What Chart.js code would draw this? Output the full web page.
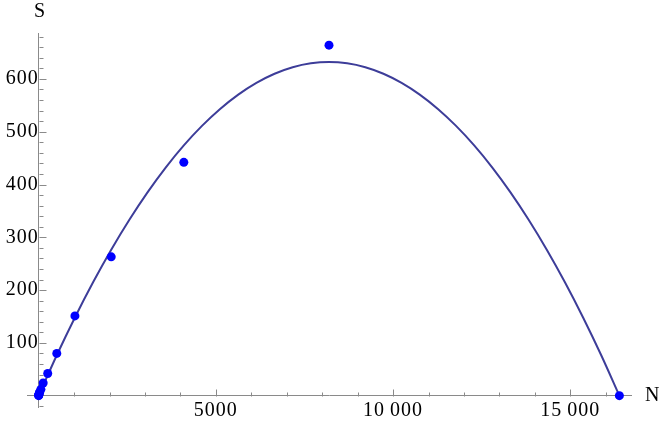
<!DOCTYPE html>
<html>
<head>
<meta charset="utf-8">
<script src="https://cdn.jsdelivr.net/npm/chart.js@4"></script>
<style>
  html, body { margin: 0; padding: 0; background: #fff; }
  #wrap { width: 664px; height: 425px; }
</style>
</head>
<body>
<div id="wrap"><canvas id="c" width="664" height="425"></canvas></div>
<script>
// Data points (N, S)
const pointsN = [1, 2, 4, 8, 16, 32, 64, 128, 256, 512, 1024, 2048, 4096, 8192, 16384];
const pointsS = [0, 1, 1, 2, 4, 7, 12, 24, 42, 80, 151, 263, 442, 664, 0];

// Fitted curve
const curveN = [0, 512, 1024, 1536, 2048, 2560, 3072, 3584, 4096, 4608, 5120, 5632, 6144, 6656, 7168, 7680, 8192,
                8704, 9216, 9728, 10240, 10752, 11264, 11776, 12288, 12800, 13312, 13824, 14336, 14848, 15360, 15872, 16384];
const curveS = [0, 76.5, 148.1, 214.8, 276.5, 333.3, 385.1, 432.0, 474.0, 511.0, 543.1, 570.3, 592.5, 609.8, 622.1, 629.5, 632,
                629.5, 622.1, 609.8, 592.5, 570.3, 543.1, 511.0, 474.0, 432.0, 385.1, 333.3, 276.5, 214.8, 148.1, 76.5, 0];

// Axis titles, tick positions and tick labels
const xTitle = 'N';
const yTitle = 'S';
const xTickValues = [1000, 2000, 3000, 4000, 5000, 6000, 7000, 8000, 9000, 10000, 11000, 12000, 13000, 14000, 15000, 16000];
const yTickValues = [-20, 20, 40, 60, 80, 100, 120, 140, 160, 180, 200, 220, 240, 260, 280, 300, 320, 340, 360, 380, 400,
                     420, 440, 460, 480, 500, 520, 540, 560, 580, 600, 620, 640, 660, 680];
const xTickLabels = { 5000: '5000', 10000: '10\u2009000', 15000: '15\u2009000' };
const yTickLabels = { 100: '100', 200: '200', 300: '300', 400: '400', 500: '500', 600: '600' };

const FONT = "'Liberation Serif', 'Times New Roman', serif";
const AXIS_COLOR = '#8a8a8a';

const tickPlugin = {
  id: 'mmaTicks',
  beforeDraw(chart) {
    chart.ctx.letterSpacing = '1px';
  },
  beforeDatasetsDraw(chart) {
    const ctx = chart.ctx;
    const xs = chart.scales.x, ys = chart.scales.y;
    const x0 = Math.round(xs.getPixelForValue(0)) + 0.5;
    const y0 = Math.round(ys.getPixelForValue(0)) + 0.5;
    ctx.save();
    ctx.strokeStyle = AXIS_COLOR;
    ctx.lineWidth = 1;
    ctx.beginPath();
    xs.ticks.forEach(t => {
      const v = t.value;
      const len = xTickLabels[v] ? 7 : 4;
      const px = Math.round(xs.getPixelForValue(v)) + 0.5;
      ctx.moveTo(px, y0);
      ctx.lineTo(px, y0 - len);
    });
    ys.ticks.forEach(t => {
      const v = t.value;
      const len = yTickLabels[v] ? 7 : 4;
      const py = Math.round(ys.getPixelForValue(v)) + 0.5;
      ctx.moveTo(x0, py);
      ctx.lineTo(x0 + len, py);
    });
    ctx.stroke();
    // axis titles
    ctx.fillStyle = '#000';
    ctx.font = '20px ' + FONT;
    ctx.letterSpacing = '0px';
    ctx.textBaseline = 'middle';
    ctx.textAlign = 'center';
    ctx.fillText(yTitle, x0, 12);
    ctx.textAlign = 'left';
    ctx.fillText(xTitle, chart.chartArea.right + 14, y0 - 1);
    ctx.restore();
  }
};

new Chart(document.getElementById('c'), {
  data: {
    datasets: [
      {
        type: 'scatter',
        data: pointsN.map((n, i) => ({ x: n, y: pointsS[i] })),
        backgroundColor: 'rgb(0,0,255)',
        borderColor: 'rgb(0,0,255)',
        pointRadius: 4.5,
        pointBorderWidth: 0,
        order: 0
      },
      {
        type: 'line',
        data: curveN.map((n, i) => ({ x: n, y: curveS[i] })),
        borderColor: 'rgb(61,61,153)',
        borderWidth: 2,
        pointRadius: 0,
        fill: false,
        cubicInterpolationMode: 'monotone',
        order: 1
      }
    ]
  },
  options: {
    responsive: false,
    animation: false,
    events: [],
    layout: { padding: { left: 27, right: 33, top: 33, bottom: 18 } },
    plugins: { legend: { display: false }, tooltip: { enabled: false } },
    scales: {
      x: {
        type: 'linear',
        position: { y: 0 },
        min: -328,
        max: 16712,
        afterBuildTicks: scale => { scale.ticks = xTickValues.map(v => ({ value: v })); },
        grid: { display: true, drawOnChartArea: false, drawTicks: false },
        border: { display: true, color: AXIS_COLOR, width: 1 },
        ticks: {
          autoSkip: false,
          maxRotation: 0,
          padding: 3,
          color: '#000',
          font: { family: FONT, size: 20 },
          callback: v => xTickLabels[v] || ''
        }
      },
      y: {
        type: 'linear',
        position: { x: 0 },
        min: -21.5,
        max: 687,
        afterBuildTicks: scale => { scale.ticks = yTickValues.map(v => ({ value: v })); },
        grid: { display: true, drawOnChartArea: false, drawTicks: false },
        border: { display: true, color: AXIS_COLOR, width: 1 },
        ticks: {
          autoSkip: false,
          padding: 4,
          color: '#000',
          font: { family: FONT, size: 20 },
          callback: v => yTickLabels[v] || ''
        }
      }
    }
  },
  plugins: [tickPlugin]
});
</script>
</body>
</html>
